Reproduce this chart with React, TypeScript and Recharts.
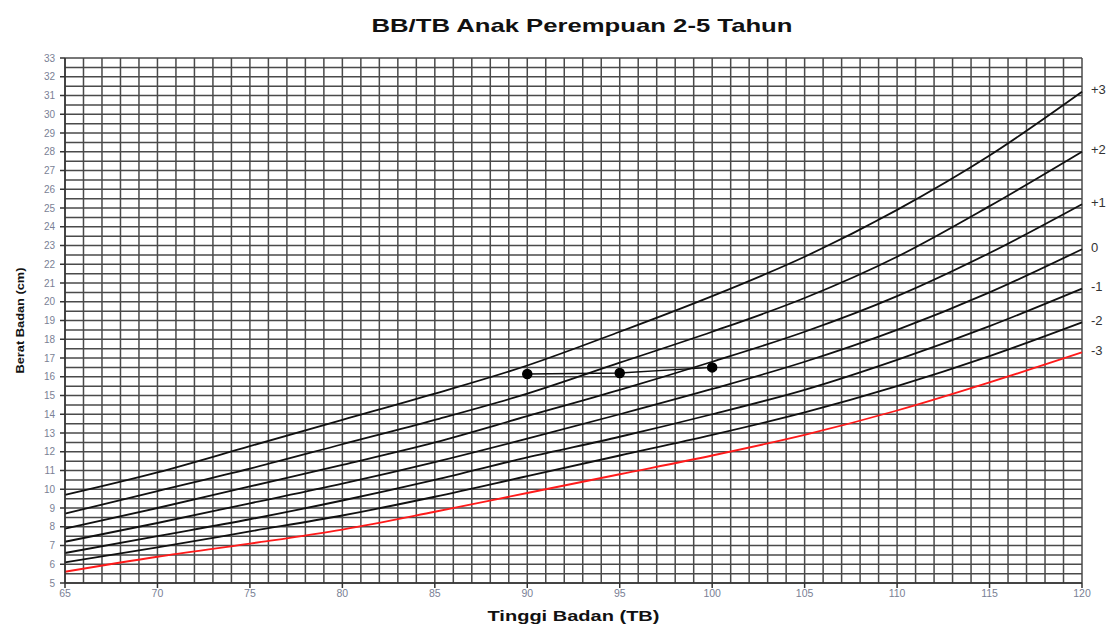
import React from 'react';
import { LineChart, Line, XAxis, YAxis, CartesianGrid } from 'recharts';

// Height categories (cm)
const heights = [65, 70, 75, 80, 85, 90, 95, 100, 105, 110, 115, 120];

// Weight-for-height reference curves (kg)
const sdMinus3 = [5.6, 6.4, 7.1, 7.85, 8.8, 9.8, 10.8, 11.8, 12.9, 14.2, 15.7, 17.3];
const sdMinus2 = [6.1, 6.9, 7.75, 8.6, 9.6, 10.7, 11.8, 12.9, 14.1, 15.5, 17.1, 18.9];
const sdMinus1 = [6.6, 7.5, 8.4, 9.4, 10.5, 11.7, 12.8, 14.0, 15.3, 16.9, 18.7, 20.7];
const sdZero = [7.2, 8.2, 9.25, 10.3, 11.45, 12.7, 14.0, 15.35, 16.8, 18.5, 20.5, 22.8];
const sdPlus1 = [7.9, 9.0, 10.15, 11.3, 12.5, 13.9, 15.3, 16.8, 18.4, 20.3, 22.6, 25.2];
const sdPlus2 = [8.7, 9.9, 11.1, 12.4, 13.7, 15.1, 16.75, 18.4, 20.2, 22.4, 25.1, 28.0];
const sdPlus3 = [9.7, 10.9, 12.3, 13.7, 15.1, 16.6, 18.4, 20.3, 22.4, 24.9, 27.8, 31.2];

// Child measurements
const childHeights = [90, 95, 100];
const childWeights = [16.15, 16.2, 16.5];

// Axis ticks / labels
const xTickLabels = [65, 70, 75, 80, 85, 90, 95, 100, 105, 110, 115, 120];
const yTickLabels = [5, 6, 7, 8, 9, 10, 11, 12, 13, 14, 15, 16, 17, 18, 19, 20, 21, 22, 23, 24, 25, 26, 27, 28, 29, 30, 31, 32, 33];
// Grid spacing: every 1 cm and every 0.5 kg
const xGrid = Array.from({ length: 56 }, (_, i) => 65 + i);
const yGrid = Array.from({ length: 57 }, (_, i) => 5 + i * 0.5);

const curveLabels = { p3: '+3', p2: '+2', p1: '+1', z0: '0', m1: '-1', m2: '-2', m3: '-3' };

const data = heights.map((h, i) => {
  const ci = childHeights.indexOf(h);
  return {
    h,
    m3: sdMinus3[i],
    m2: sdMinus2[i],
    m1: sdMinus1[i],
    z0: sdZero[i],
    p1: sdPlus1[i],
    p2: sdPlus2[i],
    p3: sdPlus3[i],
    child: ci >= 0 ? childWeights[ci] : null,
  };
});

const FONT = '"Liberation Sans", Arial, sans-serif';
const TICK_COLOR = '#7a7f95';
const GRID_COLOR = '#4a4a4a';

const XTick = (props: any) => {
  const { x, y, payload } = props;
  const v = payload.value;
  if (!xTickLabels.includes(v)) return <g />;
  return (
    <g>
      <line x1={x} x2={x} y1={y} y2={y + 5} stroke="#333" strokeWidth={1.5} />
      <text x={x} y={y + 7} dy="0.71em" textAnchor="middle" fontSize={10.5} fill={TICK_COLOR} fontFamily={FONT}>
        {v}
      </text>
    </g>
  );
};

const YTick = (props: any) => {
  const { x, y, payload } = props;
  const v = payload.value;
  if (!yTickLabels.includes(v)) return <g />;
  return (
    <g>
      <line x1={x - 5} x2={x} y1={y} y2={y} stroke="#333" strokeWidth={1.5} />
      <text x={x - 10} y={y} dy="0.35em" textAnchor="end" fontSize={10} fill={TICK_COLOR} fontFamily={FONT}>
        {v}
      </text>
    </g>
  );
};

const endLabel = (text: string) => (props: any) => {
  const { x, y, index } = props;
  if (index !== heights.length - 1) return null;
  return (
    <text x={x + 9} y={y - 2} dy="0.35em" fontSize={13} fill="#333" fontFamily={FONT}>
      {text}
    </text>
  );
};

const XLabel = (props: any) => {
  const vb = props.viewBox || { x: 57, y: 575, width: 1017, height: 20 };
  return (
    <text
      x={vb.x + vb.width / 2}
      y={vb.y + 33}
      dy="0.35em"
      textAnchor="middle"
      fontSize={14}
      fontWeight="bold"
      fill="#111"
      fontFamily={FONT}
      textLength={172}
      lengthAdjust="spacingAndGlyphs"
    >
      Tinggi Badan (TB)
    </text>
  );
};

const YLabel = (props: any) => {
  const vb = props.viewBox || { x: 7, y: 50, width: 50, height: 525 };
  const cx = 12;
  const cy = vb.y + vb.height / 2;
  return (
    <text
      x={cx}
      y={cy}
      dy="0.35em"
      textAnchor="middle"
      transform={`rotate(-90, ${cx}, ${cy})`}
      fontSize={11.5}
      fontWeight="bold"
      fill="#111"
      fontFamily={FONT}
      textLength={106}
      lengthAdjust="spacingAndGlyphs"
    >
      Berat Badan (cm)
    </text>
  );
};

const curves: { key: keyof typeof curveLabels; color: string }[] = [
  { key: 'p3', color: '#111' },
  { key: 'p2', color: '#111' },
  { key: 'p1', color: '#111' },
  { key: 'z0', color: '#111' },
  { key: 'm1', color: '#111' },
  { key: 'm2', color: '#111' },
  { key: 'm3', color: '#ff1a1a' },
];

export default function App() {
  return (
    <div style={{ position: 'relative', width: 1109, height: 618, background: '#fff' }}>
      <svg
        width={1109}
        height={40}
        style={{ position: 'absolute', left: 0, top: 0, pointerEvents: 'none' }}
      >
        <text
          x={574}
          y={11}
          dy="0.71em"
          textAnchor="middle"
          fontSize={19}
          fontWeight="bold"
          fill="#111"
          fontFamily={FONT}
          textLength={421}
          lengthAdjust="spacingAndGlyphs"
        >
          BB/TB Anak Perempuan 2-5 Tahun
        </text>
      </svg>
      <LineChart
        width={1109}
        height={618}
        data={data}
        margin={{ top: 50, right: 35, left: 7, bottom: 23 }}
      >
        <CartesianGrid stroke={GRID_COLOR} strokeWidth={1.5} />
        <XAxis
          dataKey="h"
          type="number"
          domain={[65, 120]}
          ticks={xGrid}
          interval={0}
          tickSize={0}
          tickMargin={0}
          tickLine={false}
          tick={<XTick />}
          axisLine={{ stroke: '#333', strokeWidth: 1.5 }}
          height={20}
          label={<XLabel />}
        />
        <YAxis
          type="number"
          domain={[5, 33]}
          ticks={yGrid}
          interval={0}
          tickSize={0}
          tickMargin={0}
          tickLine={false}
          tick={<YTick />}
          axisLine={{ stroke: '#333', strokeWidth: 1.5 }}
          width={50}
          label={<YLabel />}
        />
        {curves.map((c) => (
          <Line
            key={c.key}
            dataKey={c.key}
            type="monotone"
            stroke={c.color}
            strokeWidth={1.8}
            dot={false}
            activeDot={false}
            isAnimationActive={false}
            label={endLabel(curveLabels[c.key])}
          />
        ))}
        <Line
          dataKey="child"
          type="linear"
          stroke="#111"
          strokeWidth={1.5}
          dot={{ r: 4.5, fill: '#000', stroke: '#000' }}
          activeDot={false}
          isAnimationActive={false}
        />
      </LineChart>
    </div>
  );
}
